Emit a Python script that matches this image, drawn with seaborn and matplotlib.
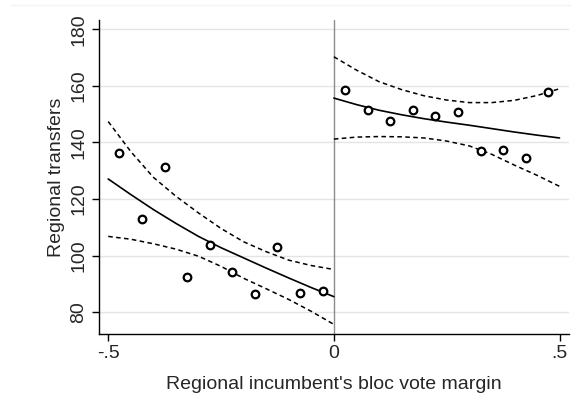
import numpy as np
import pandas as pd
import matplotlib
matplotlib.use("Agg")
import matplotlib.pyplot as plt
import seaborn as sns

# bin means (scatter)
left_x = [-0.475, -0.425, -0.375, -0.325, -0.275, -0.225, -0.175, -0.125, -0.075, -0.025]
left_y = [136.3, 113.0, 131.3, 92.5, 103.6, 94.1, 86.6, 103.0, 86.9, 87.6]
right_x = [0.025, 0.075, 0.125, 0.175, 0.225, 0.275, 0.325, 0.375, 0.425, 0.475]
right_y = [158.4, 151.6, 147.7, 151.4, 149.4, 150.7, 137.0, 137.3, 134.4, 157.9]

# fitted curve and confidence band
left_fx = [-0.5, -0.45, -0.4, -0.35, -0.3, -0.25, -0.2, -0.15, -0.1, -0.05, 0.0]
left_fit = [127.1, 121.6, 116.3, 111.4, 106.8, 102.8, 99.2, 95.6, 92.1, 88.7, 85.5]
left_hi = [147.4, 136.8, 127.7, 121.0, 115.1, 109.6, 104.9, 101.4, 98.4, 96.5, 95.1]
left_lo = [106.8, 105.8, 104.2, 102.3, 99.8, 96.2, 92.0, 88.3, 84.5, 80.3, 75.7]
right_fx = [0.0, 0.05, 0.1, 0.15, 0.2, 0.25, 0.3, 0.35, 0.4, 0.45, 0.5]
right_fit = [155.7, 153.4, 151.4, 149.8, 148.4, 147.2, 146.1, 144.9, 143.7, 142.6, 141.6]
right_hi = [170.3, 165.6, 161.5, 158.7, 156.5, 155.0, 154.1, 154.1, 154.9, 156.6, 159.0]
right_lo = [141.2, 141.9, 142.1, 142.0, 141.6, 140.5, 138.8, 135.8, 132.0, 128.4, 124.5]

yticks = [80, 100, 120, 140, 160, 180]
xticks = [-0.5, 0, 0.5]
xticklabels = ["-.5", "0", ".5"]

sns.set_theme(style="white")
plt.rcParams['font.family'] = ['Liberation Sans', 'DejaVu Sans']

fig = plt.figure(figsize=(5.71, 3.96), dpi=100)
ax = fig.add_axes([0.1729, 0.1566, 0.8236, 0.7929])

# faint outer frame line at top
fig.add_artist(plt.Line2D([0.02, 1.0], [0.987, 0.987], color="#f2f2f2", lw=1.0))

for yt in yticks:
    ax.axhline(yt, color="#e4e4e4", lw=1.0, zorder=0)
ax.axvline(0, color="#8c8c8c", lw=1.0, zorder=1)

for fx, fit, hi, lo in [(left_fx, left_fit, left_hi, left_lo),
                        (right_fx, right_fit, right_hi, right_lo)]:
    sns.lineplot(x=fx, y=fit, ax=ax, color="black", lw=1.2, sort=False)
    sns.lineplot(x=fx, y=hi, ax=ax, color="black", lw=1.1, sort=False, dashes=False,
                 linestyle=(0, (3, 2.2)))
    sns.lineplot(x=fx, y=lo, ax=ax, color="black", lw=1.1, sort=False, dashes=False,
                 linestyle=(0, (3, 2.2)))

pts = pd.DataFrame({"x": left_x + right_x, "y": left_y + right_y})
sns.scatterplot(data=pts, x="x", y="y", ax=ax, s=30, facecolor="white",
                edgecolor="black", linewidth=1.6, zorder=5)

ax.set_xlim(-0.521, 0.521)
ax.set_ylim(72.3, 183.3)
ax.set_yticks(yticks)
ax.set_yticklabels([str(v) for v in yticks], rotation=90, va="center", fontsize=14)
ax.set_xticks(xticks)
ax.set_xticklabels(xticklabels, fontsize=14)
ax.tick_params(axis="both", direction="out", length=5, width=1, color="black",
               bottom=True, left=True, pad=3)
ax.set_xlabel("Regional incumbent's bloc vote margin", fontsize=14, labelpad=10)
ax.set_ylabel("Regional transfers", fontsize=14, labelpad=4)
for side in ["top", "right"]:
    ax.spines[side].set_visible(False)
for side in ["left", "bottom"]:
    ax.spines[side].set_color("black")
    ax.spines[side].set_linewidth(1.0)

fig.savefig("out.png", dpi=100)
